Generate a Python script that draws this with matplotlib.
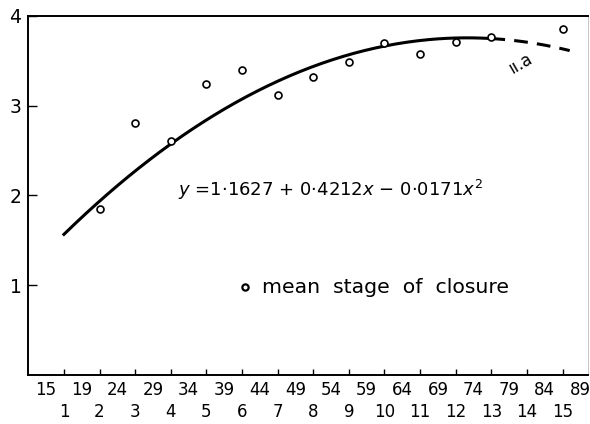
import numpy as np
import matplotlib
matplotlib.use('Agg')
import matplotlib.pyplot as plt

# 나이 구간 번호와 평균 봉합 단계
groups = [2, 3, 4, 5, 6, 7, 8, 9, 10, 11, 12, 13, 15]
mean_stage = [1.85, 2.81, 2.61, 3.24, 3.40, 3.12, 3.32, 3.49, 3.70, 3.58, 3.71, 3.77, 3.86]

# 구간 번호 / 나이 눈금
group_ticks = list(range(1, 16))
age_labels = ['15', '19', '24', '29', '34', '39', '44', '49', '54', '59',
              '64', '69', '74', '79', '84', '89']

# 2차 회귀식 계수
b0, b1, b2 = 1.1627, 0.4212, -0.0171

plt.rcParams['font.family'] = 'DejaVu Sans'

fig = plt.figure(figsize=(5.9, 4.24), dpi=100)
ax = fig.add_axes([0.048, 0.1156, 0.949, 0.8467])

# 회귀 곡선 (13구간까지 실선, 그 뒤는 점선)
xs = np.linspace(1, 13, 200)
ax.plot(xs, b0 + b1 * xs + b2 * xs ** 2, color='black', lw=2.2)
xd = np.linspace(13, 15.2, 50)
ax.plot(xd, b0 + b1 * xd + b2 * xd ** 2, color='black', lw=2.2,
        dashes=(4.5, 3))

# 평균값 점
ax.plot(groups, mean_stage, 'o', mfc='white', mec='black', ms=5, mew=1.2)

ax.text(4.2, 2.06, r'$y$ =1·1627 + 0·4212$x$ − 0·0171$x^2$', fontsize=13,
        va='center', ha='left')
ax.plot([6.08], [0.98], 'o', mfc='white', mec='black', ms=4.5, mew=1.6)
ax.text(6.56, 0.98, 'mean  stage  of  closure', fontsize=14.7, va='center', ha='left')
ax.text(13.81, 3.47, 'ıı.a', fontsize=12, rotation=30, ha='center', va='center')

ax.set_xlim(0, 15.72)
ax.set_ylim(0, 4)

ax.set_xticks(group_ticks)
ax.set_xticklabels([str(g) for g in group_ticks])
ax.set_xticks(np.arange(0.5, 16, 1), minor=True)
ax.set_xticklabels(age_labels, minor=True)
ax.tick_params(axis='x', which='major', direction='in', length=4, width=1,
               labelsize=12, pad=20)
ax.tick_params(axis='x', which='minor', length=0, labelsize=12, pad=4)

ax.set_yticks([1, 2, 3, 4])
ax.set_yticklabels(['1', '2', '3', '4'])
ax.tick_params(axis='y', direction='in', length=6.5, width=1, labelsize=13.5, pad=5)

for side in ['left', 'bottom', 'top']:
    ax.spines[side].set_linewidth(1.4)
ax.spines['right'].set_linewidth(0.6)
ax.spines['right'].set_color('#bbbbbb')

fig.savefig('out.png', dpi=100)
